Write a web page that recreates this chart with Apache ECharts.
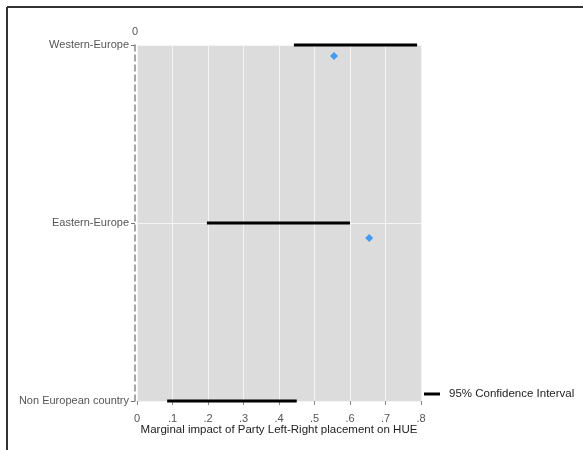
<!DOCTYPE html>
<html>
<head>
<meta charset="utf-8">
<script src="https://cdn.jsdelivr.net/npm/echarts@6/dist/echarts.min.js"></script>
<style>
html,body{margin:0;padding:0;background:#fff;}
#c{width:583px;height:450px;}
</style>
</head>
<body>
<div id="c"></div>
<script>
// Categories, from bottom (0) to top (2)
var categories = ['Non European country', 'Eastern-Europe', 'Western-Europe'];
var ciLow  = [0.085, 0.197, 0.442];
var ciHigh = [0.450, 0.600, 0.789];
// Point estimates (x, y)
var pointX = [0.654, 0.555];
var pointY = [0.916, 1.938];
var xTicks = ['0', '.1', '.2', '.3', '.4', '.5', '.6', '.7', '.8'];

var font = '"Liberation Sans", Arial, Helvetica, sans-serif';

var ciData = categories.map(function (c, i) { return [ciLow[i], ciHigh[i], i]; });
var ptData = pointX.map(function (x, i) { return [x, pointY[i]]; });

var chart = echarts.init(document.getElementById('c'), null, {renderer: 'canvas'});
chart.setOption({
  animation: false,
  backgroundColor: '#ffffff',
  textStyle: {fontFamily: font},
  graphic: [
    {type: 'line', shape: {x1: 7, y1: 7, x2: 583, y2: 7}, style: {stroke: '#333', lineWidth: 2}},
    {type: 'line', shape: {x1: 7, y1: 7, x2: 7, y2: 450}, style: {stroke: '#333', lineWidth: 2}}
  ],
  grid: {
    left: 137, right: 162, top: 45, bottom: 49,
    show: true, backgroundColor: '#dcdcdc', borderWidth: 0
  },
  legend: {
    left: 424, top: 388, padding: 0,
    itemWidth: 16, itemHeight: 3, icon: 'rect',
    textStyle: {fontFamily: font, fontSize: 11.5, color: '#222', padding: [0, 0, 0, 4]},
    data: ['95% Confidence Interval']
  },
  xAxis: {
    type: 'value', min: 0, max: 0.8, interval: 0.1, offset: 3,
    name: 'Marginal impact of Party Left-Right placement on HUE',
    nameLocation: 'middle', nameGap: 20, nameMoveOverlap: false,
    nameTextStyle: {fontFamily: font, fontSize: 11.5, color: '#222'},
    axisLine: {show: false},
    axisTick: {show: true, length: 4, lineStyle: {color: '#888'}},
    axisLabel: {
      color: '#555', fontSize: 11, margin: 9,
      formatter: function (v) { return xTicks[Math.round(v * 10)]; }
    },
    splitLine: {show: true, lineStyle: {color: '#f4f4f4', width: 1}}
  },
  yAxis: {
    type: 'value', min: 0, max: 2, interval: 1, offset: 2,
    name: '0', nameLocation: 'end', nameGap: 8,
    nameTextStyle: {color: '#555', fontSize: 11, align: 'center'},
    axisLine: {show: true, onZero: false, lineStyle: {color: '#8a8a8a', type: [6, 4], width: 1.5}},
    axisTick: {show: true, length: 4, lineStyle: {color: '#777'}},
    axisLabel: {
      color: '#555', fontSize: 11, margin: 6,
      formatter: function (v) { return categories[v]; }
    },
    splitLine: {show: true, lineStyle: {color: '#f4f4f4', width: 1}}
  },
  series: [
    {
      name: '95% Confidence Interval',
      type: 'custom',
      itemStyle: {color: '#000'},
      clip: false,
      encode: {x: [0, 1], y: 2},
      renderItem: function (params, api) {
        var p1 = api.coord([api.value(0), api.value(2)]);
        var p2 = api.coord([api.value(1), api.value(2)]);
        return {
          type: 'line',
          shape: {x1: p1[0], y1: p1[1], x2: p2[0], y2: p2[1]},
          style: {stroke: '#000', lineWidth: 3}
        };
      },
      data: ciData,
      z: 3
    },
    {
      name: 'Point estimate',
      type: 'scatter',
      symbol: 'diamond',
      symbolSize: 8,
      itemStyle: {color: '#1e88f5'},
      data: ptData,
      z: 4
    }
  ]
});
</script>
</body>
</html>
